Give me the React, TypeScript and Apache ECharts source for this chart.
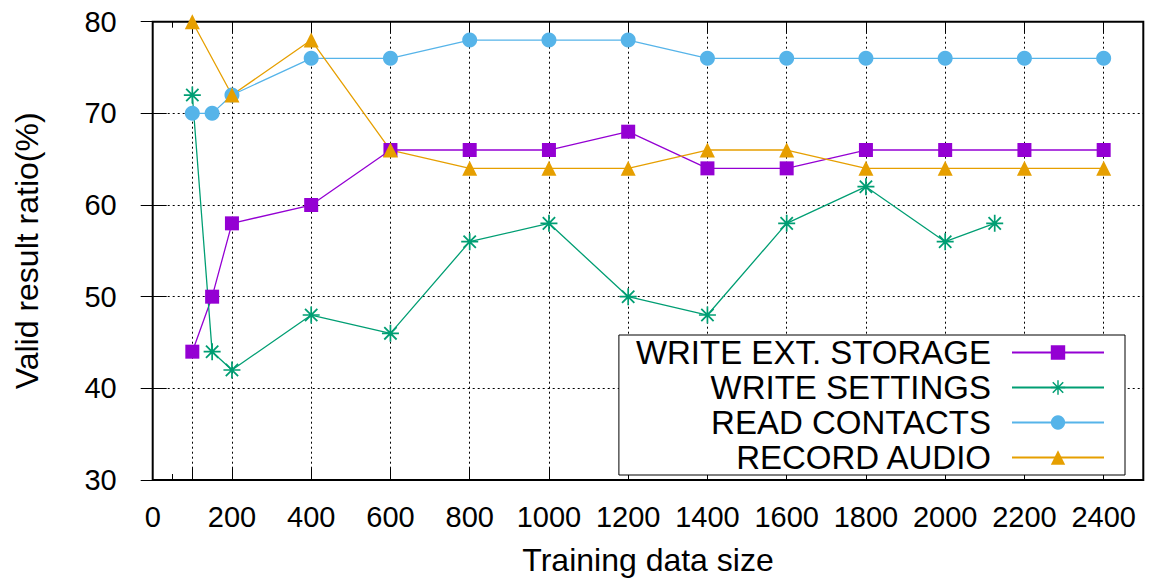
import React, { useEffect, useRef } from "react";
import * as echarts from "echarts";

const writeExtX = [100, 150, 200, 400, 600, 800, 1000, 1200, 1400, 1600, 1800, 2000, 2200, 2400];
const writeExtY = [44, 50, 58, 60, 66, 66, 66, 68, 64, 64, 66, 66, 66, 66];
const writeSetX = [100, 150, 200, 400, 600, 800, 1000, 1200, 1400, 1600, 1800, 2000, 2125];
const writeSetY = [72, 44, 42, 48, 46, 56, 58, 50, 48, 58, 62, 56, 58];
const readConX = [100, 150, 200, 400, 600, 800, 1000, 1200, 1400, 1600, 1800, 2000, 2200, 2400];
const readConY = [70, 70, 72, 76, 76, 78, 78, 78, 76, 76, 76, 76, 76, 76];
const recAudX = [100, 200, 400, 600, 800, 1000, 1200, 1400, 1600, 1800, 2000, 2200, 2400];
const recAudY = [80, 72, 78, 66, 64, 64, 64, 66, 66, 64, 64, 64, 64];

const seriesNames = ["WRITE EXT. STORAGE", "WRITE SETTINGS", "READ CONTACTS", "RECORD AUDIO"];
const seriesColors = ["#9400d3", "#009e73", "#56b4e9", "#e69f00"];

const xLabelValues = [0, 200, 400, 600, 800, 1000, 1200, 1400, 1600, 1800, 2000, 2200, 2400];
const xMajorTicks = [100, 200, 400, 600, 800, 1000, 1200, 1400, 1600, 1800, 2000, 2200, 2400];
const xMinorTicks = [50];

const FONT = "'Liberation Sans', Arial, Helvetica, sans-serif";

const asterisk =
  "path://M7.2,0 L8.8,0 L8.8,16 L7.2,16 Z M0,7.2 L16,7.2 L16,8.8 L0,8.8 Z " +
  "M1.6,2.8 L2.8,1.6 L14.4,13.2 L13.2,14.4 Z M2.8,14.4 L1.6,13.2 L13.2,1.6 L14.4,2.8 Z";

const zip = (xs: number[], ys: number[]) => xs.map((x, i) => [x, ys[i]]);

export default function App() {
  const ref = useRef<HTMLDivElement>(null);
  useEffect(() => {
    if (!ref.current) return;
    const chart = echarts.init(ref.current, undefined, { renderer: "svg" });
    const dotted = { type: [2, 3] as any, color: "#000", width: 1 };
    const hiddenLabel = { show: false };
    const xBase = { type: "value" as const, min: 0, max: 2500, axisLine: { show: false } };
    const yBase = { type: "value" as const, min: 30, max: 80, interval: 10, axisLine: { show: false } };
    const symbols = ["rect", asterisk, "circle", "triangle"];
    const sizes = [14, 17, 15, 15];
    const datas = [zip(writeExtX, writeExtY), zip(writeSetX, writeSetY), zip(readConX, readConY), zip(recAudX, recAudY)];
    chart.setOption({
      animation: false,
      grid: {
        left: 152.7,
        right: 14.7,
        top: 21.7,
        bottom: 99,
        show: true,
        borderColor: "#000",
        borderWidth: 2,
        backgroundColor: "transparent",
        containLabel: false,
        outerBoundsMode: "none",
      },
      legend: {
        orient: "vertical",
        right: 33,
        top: 335,
        align: "right",
        itemWidth: 92,
        itemHeight: 18,
        itemGap: 0,
        padding: [0, 20, 0, 17],
        backgroundColor: "#fff",
        borderColor: "#000",
        borderWidth: 1,
        borderRadius: 0,
        textStyle: { fontSize: 33, color: "#000", fontFamily: FONT, lineHeight: 35, padding: [0, 16, 0, 0] },
        data: seriesNames,
      },
      xAxis: [
        {
          ...xBase,
          position: "bottom",
          axisTick: { show: true, inside: true, length: 12, customValues: xMajorTicks, lineStyle: { color: "#000" } },
          axisLabel: {
            customValues: xLabelValues,
            fontSize: 29,
            color: "#000",
            fontFamily: FONT,
            margin: 22,
            formatter: (v: number) => String(v),
          },
          splitLine: { show: true, lineStyle: dotted },
          name: "Training data size",
          nameLocation: "middle",
          nameGap: 64,
          nameTextStyle: { fontSize: 32, color: "#000", fontFamily: FONT },
        },
        {
          ...xBase,
          position: "top",
          axisTick: { show: true, inside: true, length: 12, customValues: xMajorTicks, lineStyle: { color: "#000" } },
          axisLabel: hiddenLabel,
          splitLine: { show: false },
        },
        {
          ...xBase,
          position: "bottom",
          axisTick: { show: true, inside: true, length: 6, customValues: xMinorTicks, lineStyle: { color: "#000" } },
          axisLabel: hiddenLabel,
          splitLine: { show: false },
        },
        {
          ...xBase,
          position: "top",
          axisTick: { show: true, inside: true, length: 6, customValues: xMinorTicks, lineStyle: { color: "#000" } },
          axisLabel: hiddenLabel,
          splitLine: { show: false },
        },
      ],
      yAxis: [
        {
          ...yBase,
          position: "left",
          axisTick: { show: true, inside: false, length: 12, lineStyle: { color: "#000" } },
          axisLabel: { fontSize: 29, color: "#000", fontFamily: FONT, margin: 36 },
          splitLine: { show: true, lineStyle: dotted },
          name: "Valid result ratio(%)",
          nameLocation: "middle",
          nameGap: 110,
          nameTextStyle: { fontSize: 32, color: "#000", fontFamily: FONT },
        },
        {
          ...yBase,
          position: "right",
          axisTick: { show: true, inside: false, length: 14, lineStyle: { color: "#000" } },
          axisLabel: hiddenLabel,
          splitLine: { show: false },
        },
      ],
      series: seriesNames.map((name, i) => ({
        name,
        type: "line",
        xAxisIndex: 0,
        yAxisIndex: 0,
        data: datas[i],
        symbol: symbols[i],
        symbolSize: sizes[i],
        showAllSymbol: true,
        color: seriesColors[i],
        itemStyle: { color: seriesColors[i] },
        lineStyle: { color: seriesColors[i], width: 1.3 },
        emphasis: { disabled: true },
      })),
    });
    return () => chart.dispose();
  }, []);
  return <div ref={ref} style={{ position: "absolute", left: 0, top: 0, width: 1158, height: 579 }} />;
}
